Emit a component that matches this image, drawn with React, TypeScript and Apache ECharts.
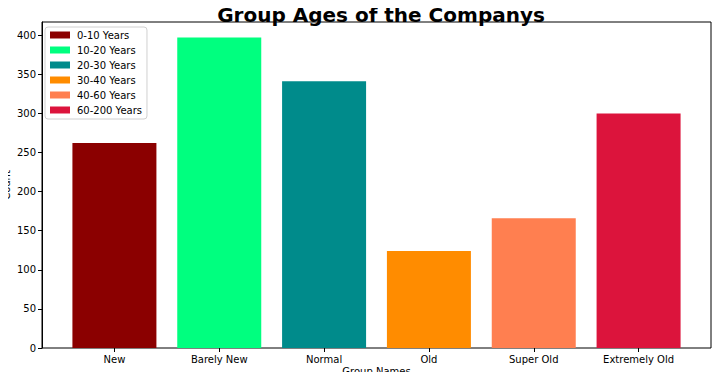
import React, { useEffect, useRef } from "react";
import * as echarts from "echarts";

const categories = ["New", "Barely New", "Normal", "Old", "Super Old", "Extremely Old"];
const legendNames = ["0-10 Years", "10-20 Years", "20-30 Years", "30-40 Years", "40-60 Years", "60-200 Years"];
const counts = [262, 397, 341, 124, 166, 300];
const colors = ["#8B0000", "#00FF7F", "#008B8B", "#FF8C00", "#FF7F50", "#DC143C"];
const yTicks = [0, 50, 100, 150, 200, 250, 300, 350, 400];

const FONT = "DejaVu Sans";

export default function App() {
  const ref = useRef<HTMLDivElement>(null);
  useEffect(() => {
    if (!ref.current) return;
    const chart = echarts.init(ref.current, undefined, { renderer: "svg" });
    const yMax = Math.max(...counts) * 1.05;
    const series = legendNames.map((name, i) => ({
      name,
      type: "bar",
      xAxisIndex: 1,
      yAxisIndex: 1,
      stack: "all",
      barWidth: 84,
      itemStyle: { color: colors[i] },
      data: categories.map((_, j) => (j === i ? counts[i] : "-")),
    }));
    chart.setOption({
      animation: false,
      backgroundColor: "#ffffff",
      textStyle: { fontFamily: FONT },
      title: {
        text: "Group Ages of the Companys",
        left: 376,
        textAlign: "center",
        top: 0,
        textStyle: { fontFamily: FONT, fontWeight: "bold", fontSize: 20, color: "#000" },
      },
      legend: {
        orient: "vertical",
        left: 45,
        top: 27,
        itemWidth: 20,
        itemHeight: 7,
        itemGap: 5,
        padding: [3, 5, 4, 5],
        borderColor: "#d0d0d0",
        borderWidth: 1,
        borderRadius: 3,
        backgroundColor: "rgba(255,255,255,0.8)",
        icon: "rect",
        textStyle: { fontFamily: FONT, fontSize: 10, color: "#000", padding: [0, 0, 0, 2] },
        data: legendNames,
      },
      grid: [
        { left: 42, right: 10, top: 22, bottom: 32, show: true, borderColor: "#000", borderWidth: 1, backgroundColor: "transparent", containLabel: false, outerBoundsMode: "none" },
        { left: 62, right: 30, top: 22, bottom: 32, containLabel: false, outerBoundsMode: "none" },
      ],
      xAxis: [
        { type: "value", gridIndex: 0, min: 0, max: 1, show: false },
        {
          type: "category",
          gridIndex: 1,
          data: categories,
          axisLine: { show: false },
          axisTick: { show: true, alignWithLabel: true, length: 4, lineStyle: { color: "#000" } },
          axisLabel: { color: "#000", fontSize: 10, fontFamily: FONT, margin: 6 },
          name: "Group Names",
          nameLocation: "middle",
          nameGap: 18,
          nameMoveOverlap: false,
          nameTextStyle: { color: "#000", fontSize: 10, fontFamily: FONT },
        },
      ],
      yAxis: [
        {
          type: "value",
          gridIndex: 0,
          min: 0,
          max: yMax,
          interval: 50,
          splitLine: { show: false },
          axisLine: { show: true, lineStyle: { color: "#000" } },
          axisTick: { show: true, length: 4, lineStyle: { color: "#000" } },
          axisLabel: {
            color: "#000",
            fontSize: 10,
            fontFamily: FONT,
            margin: 6,
            showMaxLabel: false,
            formatter: (v: number) => (yTicks.includes(v) ? String(v) : ""),
          },
          name: "Count",
          nameLocation: "middle",
          nameGap: 31,
          nameRotate: 90,
          nameMoveOverlap: false,
          nameTextStyle: { color: "#000", fontSize: 10, fontFamily: FONT },
        },
        { type: "value", gridIndex: 1, min: 0, max: yMax, show: false },
      ],
      series,
    });
    return () => chart.dispose();
  }, []);
  return <div ref={ref} style={{ width: 721, height: 380, margin: -8 }} />;
}
